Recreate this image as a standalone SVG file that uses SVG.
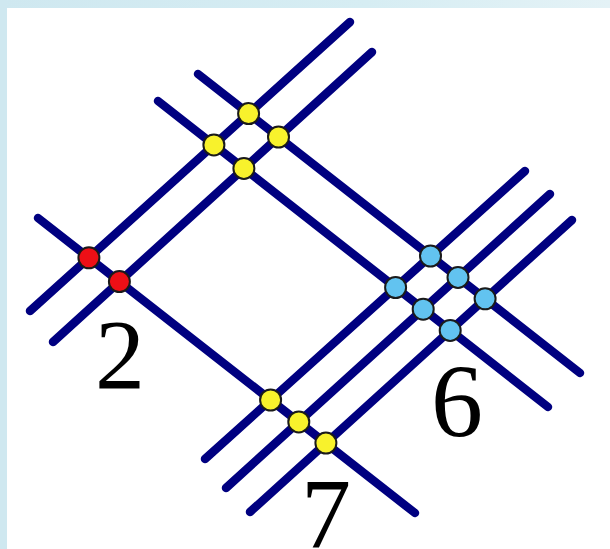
<svg xmlns="http://www.w3.org/2000/svg" width="610" height="549" viewBox="0 0 610 549">
  <defs>
    <linearGradient id="frameTop" x1="0" y1="0" x2="1" y2="0">
      <stop offset="0" stop-color="#cfe8f0"/>
      <stop offset="0.6" stop-color="#d6edf3"/>
      <stop offset="1" stop-color="#e4f2f6"/>
    </linearGradient>
    <style>
      .line { stroke: #000080; stroke-width: 8.5; stroke-linecap: round; fill: none; }
      .dot { stroke: #1a1a1a; stroke-width: 2; }
      .yellow { fill: #f8f22c; }
      .red { fill: #ee0f16; }
      .blue { fill: #62c3f0; }
      .label { font-family: "Liberation Serif", "Times New Roman", serif; font-size: 100px; fill: #000; text-anchor: middle; }
    </style>
  </defs>

  <!-- page background with a pale frame along the top and left -->
  <rect x="0" y="0" width="610" height="549" fill="#ffffff"/>
  <rect x="0" y="0" width="610" height="8" fill="url(#frameTop)"/>
  <rect x="0" y="0" width="7" height="549" fill="#cfe8f0"/>

  <!-- lines -->
  <g id="connectors">
    <!-- rising lines -->
    <line class="line" x1="30" y1="311" x2="350" y2="22"/>
    <line class="line" x1="53" y1="342" x2="372" y2="52"/>
    <line class="line" x1="205" y1="459" x2="525" y2="171"/>
    <line class="line" x1="226" y1="488" x2="550" y2="194"/>
    <line class="line" x1="250" y1="512" x2="572" y2="220"/>
    <!-- falling lines -->
    <line class="line" x1="38" y1="218" x2="415" y2="513"/>
    <line class="line" x1="158" y1="101" x2="548" y2="407"/>
    <line class="line" x1="198" y1="74" x2="580" y2="373"/>
  </g>

  <!-- crossing point clusters -->
  <g id="cluster-top">
    <circle class="dot yellow" cx="248.6" cy="113.6" r="10.5"/>
    <circle class="dot yellow" cx="213.9" cy="144.9" r="10.5"/>
    <circle class="dot yellow" cx="278.5" cy="137" r="10.5"/>
    <circle class="dot yellow" cx="243.9" cy="168.4" r="10.5"/>
  </g>
  <g id="cluster-2">
    <circle class="dot red" cx="88.9" cy="257.8" r="10.5"/>
    <circle class="dot red" cx="119.4" cy="281.6" r="10.5"/>
    <text class="label" x="120" y="388">2</text>
  </g>
  <g id="cluster-6">
    <circle class="dot blue" cx="430.5" cy="256" r="10.5"/>
    <circle class="dot blue" cx="458" cy="277.4" r="10.5"/>
    <circle class="dot blue" cx="485.1" cy="298.8" r="10.5"/>
    <circle class="dot blue" cx="395.6" cy="287.5" r="10.5"/>
    <circle class="dot blue" cx="423.2" cy="309.2" r="10.5"/>
    <circle class="dot blue" cx="450.2" cy="330.4" r="10.5"/>
    <text class="label" x="457" y="436" style="font-size:104px">6</text>
  </g>
  <g id="cluster-7">
    <circle class="dot yellow" cx="270.6" cy="400" r="10.5"/>
    <circle class="dot yellow" cx="298.8" cy="421.9" r="10.5"/>
    <circle class="dot yellow" cx="325.9" cy="443.1" r="10.5"/>
    <text class="label" x="326" y="547">7</text>
  </g>
</svg>
